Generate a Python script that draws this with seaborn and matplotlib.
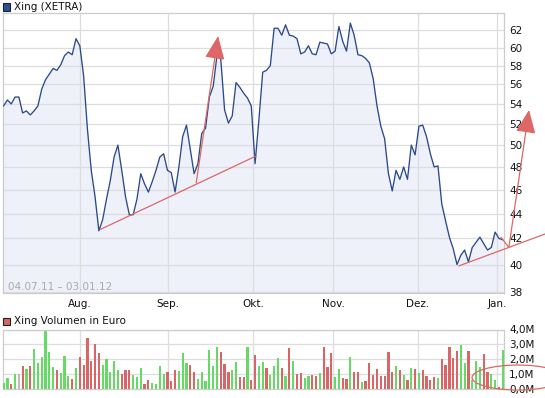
import numpy as np
import pandas as pd
import matplotlib
matplotlib.use("Agg")
import matplotlib.pyplot as plt
from matplotlib.patches import Ellipse, Rectangle
from matplotlib.ticker import NullLocator
import seaborn as sns

# daily closing price (XETRA, trading days 04.07.11 - 03.01.12)
price = [53.8, 54.4, 54.0, 54.7, 54.7, 53.1, 53.3, 52.9, 53.3, 53.8,
         55.5, 56.5, 57.1, 57.7, 57.5, 58.1, 59.1, 59.5, 59.2, 61.0,
         60.2, 56.9, 51.5, 47.7, 45.4, 42.6, 43.5, 45.2, 46.8, 48.9,
         50.0, 47.7, 45.4, 43.9, 43.9, 45.2, 47.4, 46.5, 45.8, 46.7,
         47.7, 48.9, 49.2, 47.7, 47.5, 45.8, 48.0, 50.8, 51.9, 49.6,
         47.4, 48.3, 51.1, 51.6, 54.7, 55.8, 59.1, 58.7, 53.4, 52.1,
         52.8, 56.2, 55.7, 55.1, 54.6, 53.8, 48.3, 52.4, 57.3, 57.5,
         58.0, 62.2, 62.2, 61.4, 62.6, 61.4, 61.3, 61.0, 59.3, 59.5,
         60.2, 59.3, 59.2, 60.6, 60.5, 60.4, 59.3, 59.6, 62.4, 60.7,
         59.6, 62.8, 61.4, 59.2, 59.1, 58.8, 58.3, 56.6, 53.8, 51.8,
         50.6, 47.4, 45.9, 47.7, 46.9, 48.0, 46.9, 50.0, 49.1, 51.8,
         51.9, 50.8, 49.2, 48.0, 48.1, 44.8, 43.4, 42.1, 41.2, 40.0,
         40.7, 41.1, 40.2, 41.3, 41.7, 42.1, 41.6, 41.1, 41.3, 42.5,
         42.0, 41.9]

# daily volume in million euro
volume = [0.43, 0.76, 0.34, 1.0, 1.0, 1.54, 1.34, 1.54, 2.68, 1.75,
          2.15, 3.9, 2.48, 1.48, 1.28, 1.07, 2.21, 0.87, 0.67, 1.41,
          2.15, 1.61, 3.42, 1.88, 3.02, 2.42, 1.61, 2.01, 1.14, 1.88,
          1.28, 1.0, 1.28, 1.28, 0.94, 0.8, 1.41, 0.34, 0.6, 0.4,
          0.34, 1.54, 1.0, 1.14, 0.54, 1.28, 1.21, 2.42, 1.75, 1.61,
          1.14, 0.67, 1.14, 0.54, 2.62, 1.54, 2.82, 2.48, 1.68, 1.14,
          1.28, 1.81, 0.8, 0.8, 2.82, 0.6, 2.28, 1.54, 1.81, 1.41,
          0.94, 1.54, 2.08, 1.41, 0.87, 2.75, 1.88, 1.0, 1.07, 0.74,
          0.87, 0.94, 0.87, 1.07, 2.82, 1.48, 2.42, 0.8, 1.34, 0.74,
          0.67, 2.15, 1.14, 1.14, 0.47, 0.54, 1.75, 0.94, 1.34, 0.87,
          0.87, 2.48, 1.14, 1.54, 1.28, 0.94, 0.6, 1.41, 1.34, 1.07,
          1.28, 0.87, 0.6, 0.8, 0.74, 2.01, 1.61, 2.82, 2.08, 2.55,
          2.95, 1.75, 2.55, 0.6, 1.88, 1.48, 2.35, 1.14, 1.0, 0.6,
          0.13, 2.62]

# bar colour per day: g = up, r = down, n = unchanged
bar_dir = ("ggrgnrgrgg" "ggggrgggrg" "rrrrrrgggg" "grrrgggrrg" "gggrrrgggr"
           "rggggggrrr" "ggrrgrrggr" "gggrgrgrrg" "grrgrrrggr" "rgrrgrrrrr"
           "rrrgrgrgrg" "rrrrgrrrrr" "ggrgggrrgg" "rg")

month_labels = ["Aug.", "Sep.", "Okt.", "Nov.", "Dez.", "Jan."]
month_pos = [20.05, 43.15, 65.5, 86.5, 108.7, 129.6]
price_ticks = [38, 40, 42, 44, 46, 48, 50, 52, 54, 56, 58, 60, 62]
vol_ticks = [0, 1, 2, 3, 4]
vol_labels = ["0,0M", "1,0M", "2,0M", "3,0M", "4,0M"]
date_range = "04.07.11 \u2013 03.01.12"

# hand drawn trend lines / arrows (trading day index, price)
trend1_x = [25.3, 66.3]
trend1_y = [42.7, 49.0]
arrow1_start = (50.55, 46.6)
arrow1_tip = (56.3, 61.3)
trend2_x = [119.5, 142.1]
trend2_y = [39.9, 42.35]
kink_x = [130.5, 132.6]
kink_y = [42.1, 41.3]
arrow2_tip = (137.9, 53.4)
ellipse_xy = (135.0, 0.77)
ellipse_w = 24.1
ellipse_h = 1.68

line_col = "#2b4a8b"
fill_col = "#eef1fa"
anno_col = "#dd6666"
grid_col = "#dddddd"
dir_col = {"g": "#66d966", "r": "#d96666", "n": "#bbbbbb"}

def main():
    n = len(price)
    idx = np.arange(n)
    keys = [str(i) for i in idx]
    df = pd.DataFrame({"day": idx, "key": keys, "price": price, "volume": volume})
    bar_pal = {k: dir_col[c] for k, c in zip(keys, bar_dir)}

    sns.set_style("white")
    plt.rcParams["font.family"] = ["DejaVu Sans"]

    W, H = 545, 398
    fig = plt.figure(figsize=(W / 100, H / 100), dpi=100)
    ax1 = fig.add_axes([3 / W, (H - 293) / H, 500.5 / W, 280 / H])
    ax2 = fig.add_axes([3 / W, (H - 389) / H, 500.5 / W, 59.5 / H])
    xlim = (-0.16, 131.2)

    # price panel
    ax1.fill_between(idx, price, 30, color=fill_col, lw=0, zorder=0.2)
    sns.lineplot(data=df, x="day", y="price", ax=ax1, color=line_col, lw=0.95, zorder=3)
    ax1.set_yscale("log")
    ax1.set_ylim(37.93, 64.0)
    ax1.set_xlim(*xlim)
    ax1.set_yticks(price_ticks)
    ax1.set_yticklabels([str(t) for t in price_ticks])
    ax1.yaxis.set_minor_locator(NullLocator())
    ax1.set_xticks(month_pos)
    ax1.set_xticklabels(month_labels)
    ax1.yaxis.tick_right()
    ax1.tick_params(axis="both", length=0, pad=4, labelsize=7.5, colors="#111111")
    ax1.set_xlabel("")
    ax1.set_ylabel("")
    ax1.grid(True, color=grid_col, lw=0.9)
    ax1.set_axisbelow(True)
    for s in ax1.spines.values():
        s.set_color("#cccccc")
        s.set_linewidth(0.9)
    ax1.text(0.009, 0.023, date_range, transform=ax1.transAxes, fontsize=7.5,
             color="#aaaaaa", va="center", ha="left")

    # hand drawn annotations
    ax1.plot(trend1_x, trend1_y, color=anno_col, lw=0.9, zorder=4)
    ax1.plot(trend2_x, trend2_y, color=anno_col, lw=0.9, zorder=4, clip_on=False)
    ax1.plot(kink_x, kink_y, color=anno_col, lw=0.9, zorder=4, clip_on=False)
    for start, tip in [(arrow1_start, arrow1_tip), ((kink_x[1], kink_y[1]), arrow2_tip)]:
        ax1.annotate("", xy=tip, xytext=start, annotation_clip=False,
                     arrowprops=dict(arrowstyle="-|>,head_length=1.45,head_width=0.62",
                                     color=anno_col, lw=0.9, mutation_scale=10,
                                     shrinkA=0, shrinkB=0), zorder=5)

    # volume panel
    sns.barplot(data=df, x="key", y="volume", hue="key", palette=bar_pal, dodge=False,
                width=0.58, saturation=1, legend=False, ax=ax2, zorder=3,
                linewidth=0, antialiased=False)
    ax2.set_xlim(*xlim)
    ax2.set_ylim(0, 4.0)
    ax2.set_xticks(month_pos)
    ax2.set_xticklabels([])
    ax2.set_yticks(vol_ticks)
    ax2.set_yticklabels(vol_labels)
    ax2.yaxis.tick_right()
    ax2.tick_params(axis="both", length=0, pad=4, labelsize=7.5, colors="#111111")
    ax2.set_xlabel("")
    ax2.set_ylabel("")
    ax2.grid(True, color=grid_col, lw=0.9)
    ax2.set_axisbelow(True)
    for s in ax2.spines.values():
        s.set_color("#cccccc")
        s.set_linewidth(0.9)
    ax2.add_patch(Ellipse(ellipse_xy, ellipse_w, ellipse_h, fill=False,
                          edgecolor=anno_col, lw=0.9, clip_on=False, zorder=6))

    # panel titles with colour squares
    fig.add_artist(Rectangle((3 / W, (H - 10.5) / H), 7 / W, 7 / H, transform=fig.transFigure,
                             facecolor="#2f4f8f", edgecolor="#222222", lw=0.8))
    fig.text(13.5 / W, (H - 6.5) / H, "Xing (XETRA)", fontsize=7.5, va="center", color="#111111")
    fig.add_artist(Rectangle((3 / W, (H - 325) / H), 7 / W, 7 / H, transform=fig.transFigure,
                             facecolor="#d96666", edgecolor="#222222", lw=0.8))
    fig.text(13.5 / W, (H - 321) / H, "Xing Volumen in Euro", fontsize=7.5, va="center",
             color="#111111")

    plt.savefig("out.png", dpi=100)
    plt.close()

if __name__ == "__main__":
    main()
